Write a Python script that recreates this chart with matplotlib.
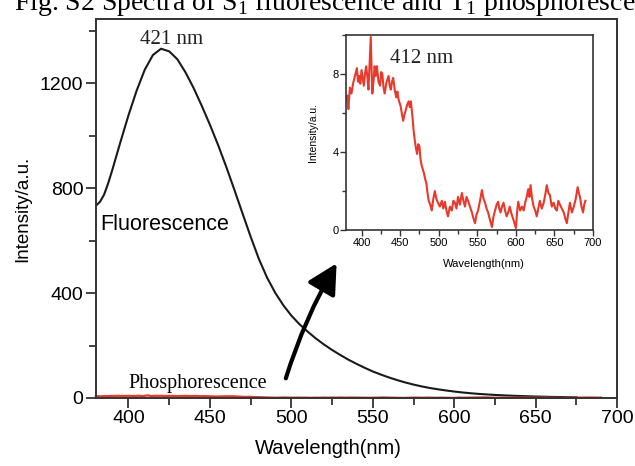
import matplotlib
matplotlib.use("Agg")
import matplotlib.pyplot as plt
from matplotlib.ticker import MultipleLocator
from matplotlib.patches import FancyArrowPatch

plt.rcParams['font.family'] = ['Liberation Sans', 'DejaVu Sans']
plt.rcParams['mathtext.fontset'] = 'custom'
plt.rcParams['mathtext.rm'] = 'Liberation Serif'

# fluorescence spectrum (nm, a.u.)
fl_wl = [380, 382.5, 385, 387.5, 390, 395, 400, 405, 410, 415, 420, 425, 430,
         435, 440, 445, 450, 455, 460, 465, 470, 475, 480, 485, 490, 495, 500,
         505, 510, 515, 520, 525, 530, 535, 540, 545, 550, 555, 560, 565, 570,
         575, 580, 585, 590, 595, 600, 605, 610, 615, 620, 625, 630, 640, 650,
         660, 675]
fl_int = [733, 748, 775, 818, 868, 975, 1078, 1172, 1252, 1308, 1332, 1322,
          1292, 1242, 1182, 1114, 1042, 965, 882, 794, 704, 615, 531, 460, 402,
          354, 314, 281, 253, 227, 204, 183, 164, 146, 130, 115, 101, 89, 78,
          68, 59, 51, 44, 38, 33, 28.5, 24.5, 21, 18, 15.5, 13.5, 11.5, 10, 7.5,
          5.5, 4, 2.5]

# phosphorescence spectrum (nm, a.u.)
ph_wl = [380, 381.5, 383, 384, 385, 387, 389, 391.5, 394, 395.5, 397, 398.5,
         400, 401.5, 403, 404.5, 406, 407.5, 409, 410.5, 412, 413, 414, 415.5,
         417, 418.5, 420, 422, 424, 425.5, 427, 428.5, 430, 432.5, 435, 436.5,
         438, 439.5, 441, 443, 445, 446.5, 448, 449.5, 451, 452.5, 454, 455.5,
         457, 459, 461, 462.5, 464, 465, 466, 467.5, 469, 470.5, 472, 473.5,
         475, 476.5, 478, 479.5, 481, 482.5, 484, 485.5, 487, 489, 491, 493,
         495, 497, 499, 501.5, 504, 506, 508, 510, 512, 514.5, 517, 519, 521,
         523, 525, 527.5, 530, 532, 534, 536, 538, 540.5, 543, 545, 547, 549,
         551, 553.5, 556, 558, 560, 562, 564, 566.5, 569, 571, 573, 575, 577,
         578.5, 580, 582, 584, 586, 588, 590, 592, 594.5, 597, 598.5, 600,
         601.5, 603, 605.5, 608, 610, 612, 614, 616, 617.5, 619, 621, 623, 625,
         627, 629, 631, 633.5, 636, 638, 640, 642, 644, 646.5, 649, 651, 653,
         655, 657, 659.5, 662, 664, 666, 668, 670, 672.5, 675, 677.5, 680,
         681.5, 683, 685, 687, 688.5, 690]
ph_int = [6.7, 6.9, 6.2, 6.8, 7.3, 7.0, 7.5, 7.9, 8.3, 7.6, 7.9, 7.5,
          8.2, 7.8, 7.4, 8.0, 8.4, 7.9, 7.2, 8.6, 9.9, 8.3, 7.0, 7.6,
          8.4, 7.9, 8.4, 7.6, 7.4, 8.1, 8.0, 7.3, 7.0, 7.6, 7.9, 7.4,
          7.2, 7.6, 7.8, 7.2, 6.8, 7.1, 6.7, 6.5, 6.3, 5.9, 5.6, 5.9,
          6.1, 6.4, 6.6, 6.3, 6.6, 6.2, 5.8, 5.1, 4.6, 4.2, 3.9, 4.4,
          4.3, 3.6, 3.3, 3.1, 2.9, 2.6, 2.4, 1.9, 1.5, 1.3, 1.0, 1.6,
          2.0, 1.6, 1.4, 1.2, 1.5, 1.1, 1.45, 1.0, 0.7, 1.2, 1.0, 1.5, 1.4,
          1.1, 1.7, 1.3, 1.9, 1.5, 1.2, 1.7, 1.5, 1.2, 0.9, 0.6, 0.35, 0.8,
          1.0, 1.5, 2.05, 1.6, 1.4, 1.1, 0.9, 0.5, 0.15, 0.7, 1.0, 1.3, 1.45,
          1.1, 0.9, 1.2, 1.4, 1.0, 0.7, 0.9, 1.2, 0.8, 0.5, 0.3, 0.1,
          0.9, 1.45, 1.0, 1.2, 1.0, 1.4, 1.7, 2.1, 1.7, 2.3, 1.6, 1.2, 1.0,
          0.7, 1.1, 1.5, 1.1, 1.4, 1.8, 2.3, 1.9, 1.8, 1.2, 1.4, 1.1, 1.0,
          1.5, 1.3, 1.1, 0.9, 0.6, 0.35, 0.9, 1.4, 0.9, 1.2, 1.6, 2.2,
          1.9, 1.7, 1.2, 0.9, 1.3, 1.5]

black = '#1a1a1a'
red = '#e8392c'

fig = plt.figure(figsize=(6.35, 4.66), dpi=100)

# main axes
ax = fig.add_axes([0.151, 0.146, 0.821, 0.813])
ax.plot(fl_wl, fl_int, color=black, lw=1.5)
ax.plot(ph_wl, ph_int, color=red, lw=1.6, clip_on=False)
ax.set_xlim(380, 700)
ax.set_ylim(0, 1445)
ax.xaxis.set_major_locator(MultipleLocator(50))
ax.xaxis.set_minor_locator(MultipleLocator(25))
ax.yaxis.set_major_locator(MultipleLocator(400))
ax.yaxis.set_minor_locator(MultipleLocator(200))
ax.tick_params(which='both', direction='out', width=1.3, color='#333333',
               labelsize=14, pad=2)
ax.tick_params(which='major', length=7)
ax.tick_params(which='minor', length=5)
for s in ax.spines.values():
    s.set_linewidth(1.4)
    s.set_color('#333333')
ax.set_ylabel('Intensity/a.u.', fontsize=13.5, labelpad=6)
fig.text(328 / 635, 1 - 449 / 466, 'Wavelength(nm)', fontsize=14.5,
         ha='center', va='center')

# inset
ins = fig.add_axes([0.545, 0.5064, 0.389, 0.4185])
ins.plot(ph_wl, ph_int, color=red, lw=1.5)
ins.set_xlim(380, 700)
ins.set_ylim(0, 10)
ins.xaxis.set_major_locator(MultipleLocator(50))
ins.xaxis.set_minor_locator(MultipleLocator(25))
ins.yaxis.set_major_locator(MultipleLocator(4))
ins.yaxis.set_minor_locator(MultipleLocator(2))
ins.tick_params(which='both', direction='out', width=1.0, color='#333333',
                labelsize=8, pad=1.5)
ins.tick_params(which='major', length=4)
ins.tick_params(which='minor', length=3)
for s in ins.spines.values():
    s.set_linewidth(1.2)
    s.set_color('#333333')
fig.text(313 / 635, 1 - 132 / 466, 'Intensity/a.u.', fontsize=7.5,
         rotation=90, ha='center', va='center')
fig.text(484 / 635, 1 - 264 / 466, 'Wavelength(nm)', fontsize=8,
         ha='center', va='center')

# annotations
serif = 'Liberation Serif'
fig.text(172 / 635, 1 - 44 / 466, '421 nm', family=serif, fontsize=15,
         ha='center', va='baseline', color='#222222')
fig.text(422 / 635, 1 - 63 / 466, '412 nm', family=serif, fontsize=15,
         ha='center', va='baseline', color='#222222')
fig.text(100 / 635, 1 - 230 / 466, 'Fluorescence', fontsize=15.5,
         ha='left', va='baseline')
fig.text(128 / 635, 1 - 388 / 466, 'Phosphorescence', family=serif,
         fontsize=14.5, ha='left', va='baseline')
fig.text(14 / 635, 1 - 10 / 466,
         r'Fig. S2 Spectra of S$_\mathrm{1}$ fluorescence and T$_\mathrm{1}$ phosphorescence',
         family=serif, fontsize=20, ha='left', va='baseline')

arrow = FancyArrowPatch((285 / 635, 1 - 381 / 466), (338 / 635, 1 - 261 / 466),
                        transform=fig.transFigure,
                        connectionstyle='arc3,rad=-0.06',
                        arrowstyle='-|>,head_length=1.8,head_width=0.95',
                        mutation_scale=10, lw=3, color='black')
fig.patches.append(arrow)

fig.savefig('out.png', dpi=100)
